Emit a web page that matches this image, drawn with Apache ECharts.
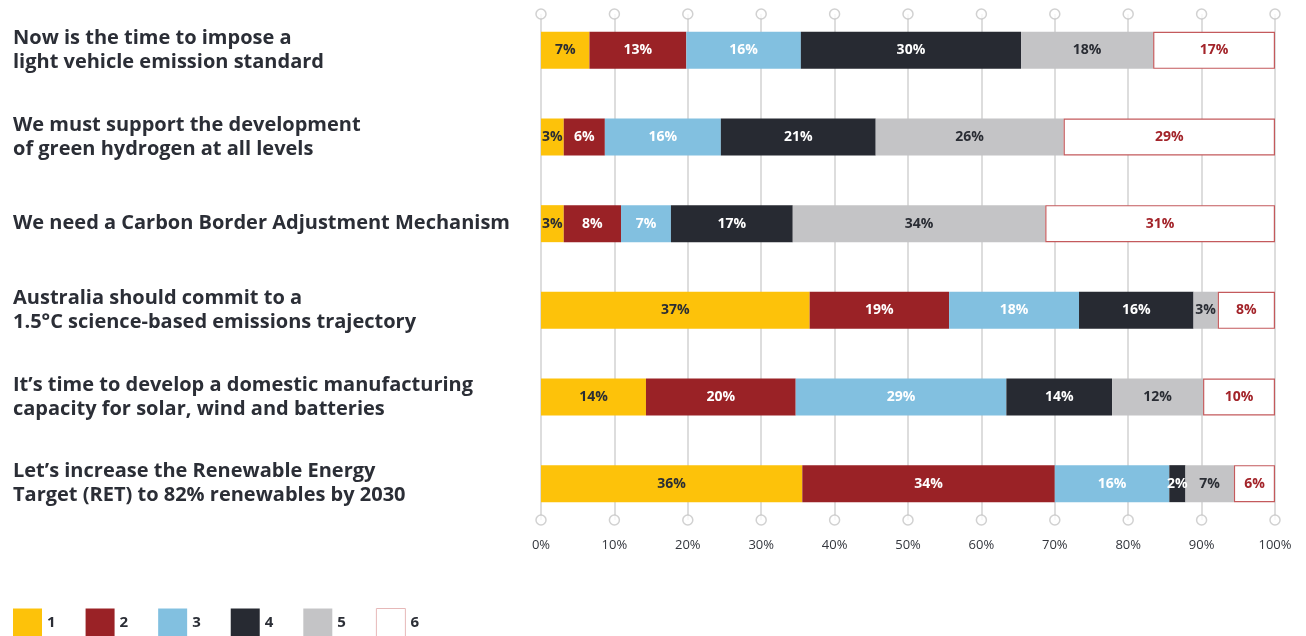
<!DOCTYPE html>
<html>
<head>
<meta charset="utf-8">
<script src="https://cdn.jsdelivr.net/npm/echarts@6/dist/echarts.min.js"></script>
<style>
  html, body { margin: 0; padding: 0; background: #fff; }
  #chart { width: 1306px; height: 636px; }
</style>
</head>
<body>
<div id="chart"></div>
<script>
// statements, top to bottom
const categories = [
  'Now is the time to impose a\nlight vehicle emission standard',
  'We must support the development\nof green hydrogen at all levels',
  'We need a Carbon Border Adjustment Mechanism',
  'Australia should commit to a\n1.5°C science-based emissions trajectory',
  'It\u2019s time to develop a domestic manufacturing\ncapacity for solar, wind and batteries',
  'Let\u2019s increase the Renewable Energy\nTarget (RET) to 82% renewables by 2030'
];
const seriesNames = ['1', '2', '3', '4', '5', '6'];
// share of responses per rating (%)
const rating1 = [6.6, 3.1, 3.1, 36.6, 14.3, 35.6];
const rating2 = [13.2, 5.6, 7.8, 19.0, 20.4, 34.4];
const rating3 = [15.6, 15.8, 6.8, 17.7, 28.7, 15.6];
const rating4 = [30.0, 21.1, 16.6, 15.6, 14.4, 2.2];
const rating5 = [18.0, 25.6, 34.4, 3.3, 12.4, 6.6];
const rating6 = [16.6, 28.8, 31.3, 7.8, 9.8, 5.6];
const xTicks = [0, 10, 20, 30, 40, 50, 60, 70, 80, 90, 100];

const allData = [rating1, rating2, rating3, rating4, rating5, rating6];
const fills = ['#FDC20A', '#9A2226', '#82C0E0', '#272A32', '#C4C4C6', '#FFFFFF'];
const labelColors = ['#2a2d34', '#fff', '#fff', '#fff', '#2a2d34', '#A3242A'];

let chart = echarts.init(document.getElementById('chart'));

let barSeries = allData.map(function (d, i) {
  return {
    name: seriesNames[i],
    type: 'bar',
    stack: 'total',
    xAxisIndex: 0,
    yAxisIndex: 0,
    barWidth: 37,
    data: d,
    itemStyle: {
      color: fills[i],
      borderColor: i === 5 ? '#C45A5C' : fills[i],
      borderWidth: i === 5 ? 1.2 : 0
    },
    label: {
      show: true,
      position: 'inside',
      formatter: function (p) { return Math.round(p.value) + '%'; },
      color: labelColors[i],
      fontFamily: 'Open Sans',
      fontWeight: 'bold',
      fontSize: 14
    }
  };
});

// little circles on the ends of the gridlines
let endPoints = [];
xTicks.forEach(function (t) {
  endPoints.push([t, 0]);
  endPoints.push([t, 1]);
});

chart.setOption({
  animation: false,
  textStyle: { fontFamily: 'Open Sans' },
  legend: {
    data: seriesNames.map(function (n, i) {
      return i === 5 ? { name: n, itemStyle: { borderColor: '#E6B8B8', borderWidth: 1 } } : n;
    }),
    left: 13,
    top: 608,
    padding: 0,
    icon: 'rect',
    itemWidth: 29,
    itemHeight: 28,
    itemGap: 30,
    textStyle: { fontSize: 15, fontWeight: 'bold', color: '#2b2e36' }
  },
  grid: [
    { left: 541, right: 31, top: 7, bottom: 109 },
    { left: 541, right: 31, top: 14, bottom: 116 }
  ],
  xAxis: [
    { gridIndex: 0, type: 'value', min: 0, max: 100, show: false },
    {
      gridIndex: 1,
      type: 'value',
      min: 0,
      max: 100,
      interval: 10,
      axisLine: { show: false },
      axisTick: { show: false },
      splitLine: { show: true, lineStyle: { color: '#d2d2d2', width: 1.5 } },
      axisLabel: {
        formatter: '{value}%',
        margin: 19,
        fontSize: 13,
        color: '#33363d'
      }
    }
  ],
  yAxis: [
    {
      gridIndex: 0,
      type: 'category',
      data: categories,
      inverse: true,
      axisLine: { show: false },
      axisTick: { show: false },
      splitLine: { show: false },
      axisLabel: {
        align: 'left',
        margin: 528,
        fontSize: 20,
        lineHeight: 24,
        fontWeight: 'bold',
        color: '#2b2e36'
      }
    },
    { gridIndex: 1, type: 'value', min: 0, max: 1, show: false }
  ],
  series: barSeries.concat([{
    name: 'ends',
    type: 'scatter',
    xAxisIndex: 1,
    yAxisIndex: 1,
    silent: true,
    symbol: 'circle',
    symbolSize: 10,
    data: endPoints,
    itemStyle: { color: '#fff', borderColor: '#c6c6c6', borderWidth: 1.5 },
    z: 1
  }])
});
</script>
</body>
</html>
